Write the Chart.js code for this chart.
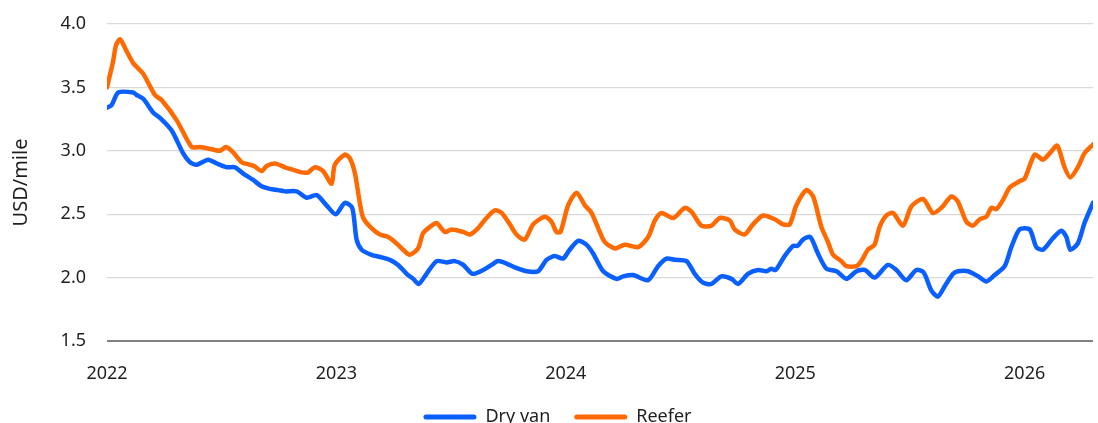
<!DOCTYPE html>
<html>
<head>
<meta charset="utf-8">
<script src="https://cdn.jsdelivr.net/npm/chart.js@4/dist/chart.umd.min.js"></script>
<style>
  html, body { margin: 0; padding: 0; background: #ffffff; }
  #wrap { width: 1098px; height: 423px; overflow: hidden; }
</style>
</head>
<body>
<div id="wrap"><canvas id="rates" width="1098" height="423"></canvas></div>
<script>
// Axis ticks
const yearTicks = [2022, 2023, 2024, 2025, 2026];
const rateTicks = [1.5, 2.0, 2.5, 3.0, 3.5, 4.0];

// Dry van spot rate, USD per mile (time in decimal years)
const dryVanT = [
  2022.000, 2022.020, 2022.049, 2022.115, 2022.129, 2022.158, 2022.202, 2022.231, 2022.282, 2022.332,
  2022.362, 2022.391, 2022.441, 2022.478, 2022.522, 2022.558, 2022.594, 2022.637, 2022.674, 2022.710,
  2022.746, 2022.776, 2022.827, 2022.870, 2022.914, 2022.957, 2022.997, 2023.037, 2023.069, 2023.088,
  2023.110, 2023.153, 2023.197, 2023.233, 2023.269, 2023.306, 2023.335, 2023.359, 2023.393, 2023.437,
  2023.480, 2023.516, 2023.553, 2023.593, 2023.640, 2023.676, 2023.705, 2023.742, 2023.778, 2023.829,
  2023.879, 2023.916, 2023.952, 2023.988, 2024.017, 2024.054, 2024.090, 2024.119, 2024.163, 2024.221,
  2024.250, 2024.293, 2024.359, 2024.402, 2024.439, 2024.475, 2024.526, 2024.562, 2024.598, 2024.635,
  2024.678, 2024.722, 2024.751, 2024.794, 2024.838, 2024.875, 2024.896, 2024.915, 2024.954, 2024.990,
  2025.010, 2025.034, 2025.066, 2025.099, 2025.136, 2025.180, 2025.223, 2025.267, 2025.303, 2025.346,
  2025.404, 2025.441, 2025.484, 2025.528, 2025.560, 2025.593, 2025.622, 2025.651, 2025.688, 2025.709,
  2025.753, 2025.797, 2025.833, 2025.869, 2025.913, 2025.942, 2025.978, 2026.022, 2026.051, 2026.080,
  2026.123, 2026.160, 2026.182, 2026.199, 2026.232, 2026.261, 2026.298
];
const dryVanRate = [
  3.34, 3.36, 3.46, 3.46, 3.44, 3.41, 3.30, 3.26, 3.16, 2.98,
  2.91, 2.89, 2.93, 2.90, 2.87, 2.87, 2.82, 2.77, 2.72, 2.70,
  2.69, 2.68, 2.68, 2.63, 2.65, 2.57, 2.50, 2.59, 2.55, 2.30,
  2.22, 2.18, 2.16, 2.14, 2.10, 2.03, 1.99, 1.95, 2.03, 2.13,
  2.12, 2.13, 2.10, 2.03, 2.06, 2.10, 2.13, 2.11, 2.08, 2.05,
  2.05, 2.14, 2.17, 2.15, 2.22, 2.29, 2.26, 2.19, 2.05, 1.99,
  2.01, 2.02, 1.98, 2.09, 2.15, 2.14, 2.13, 2.03, 1.96, 1.95,
  2.01, 1.99, 1.95, 2.03, 2.06, 2.05, 2.07, 2.06, 2.17, 2.25,
  2.25, 2.30, 2.32, 2.19, 2.07, 2.05, 1.99, 2.05, 2.06, 2.00,
  2.10, 2.06, 1.98, 2.06, 2.04, 1.90, 1.85, 1.93, 2.03, 2.05,
  2.05, 2.01, 1.97, 2.02, 2.09, 2.24, 2.38, 2.38, 2.24, 2.22,
  2.31, 2.37, 2.32, 2.22, 2.27, 2.43, 2.59
];

// Reefer spot rate, USD per mile (time in decimal years)
const reeferT = [
  2022.000, 2022.026, 2022.039, 2022.057, 2022.087, 2022.115, 2022.157, 2022.209, 2022.238, 2022.304,
  2022.369, 2022.405, 2022.462, 2022.492, 2022.519, 2022.549, 2022.587, 2022.623, 2022.641, 2022.674,
  2022.696, 2022.732, 2022.776, 2022.812, 2022.848, 2022.877, 2022.906, 2022.942, 2022.979, 2022.993,
  2023.037, 2023.059, 2023.081, 2023.102, 2023.117, 2023.153, 2023.190, 2023.226, 2023.262, 2023.291,
  2023.320, 2023.356, 2023.378, 2023.415, 2023.437, 2023.473, 2023.502, 2023.553, 2023.582, 2023.618,
  2023.654, 2023.691, 2023.720, 2023.756, 2023.785, 2023.821, 2023.858, 2023.908, 2023.938, 2023.959,
  2023.977, 2024.010, 2024.047, 2024.083, 2024.112, 2024.148, 2024.170, 2024.214, 2024.257, 2024.315,
  2024.359, 2024.388, 2024.417, 2024.468, 2024.519, 2024.548, 2024.591, 2024.635, 2024.671, 2024.715,
  2024.736, 2024.780, 2024.816, 2024.860, 2024.911, 2024.947, 2024.976, 2025.005, 2025.049, 2025.078,
  2025.114, 2025.143, 2025.165, 2025.201, 2025.223, 2025.267, 2025.288, 2025.317, 2025.346, 2025.368,
  2025.397, 2025.426, 2025.470, 2025.506, 2025.557, 2025.600, 2025.637, 2025.681, 2025.709, 2025.746,
  2025.775, 2025.804, 2025.833, 2025.855, 2025.877, 2025.905, 2025.935, 2025.978, 2026.000, 2026.044,
  2026.080, 2026.109, 2026.142, 2026.174, 2026.199, 2026.232, 2026.261, 2026.298
];
const reeferRate = [
  3.50, 3.70, 3.83, 3.88, 3.78, 3.69, 3.61, 3.44, 3.40, 3.24,
  3.03, 3.03, 3.01, 3.00, 3.03, 2.99, 2.91, 2.89, 2.88, 2.84,
  2.88, 2.90, 2.87, 2.85, 2.83, 2.83, 2.87, 2.84, 2.74, 2.89,
  2.97, 2.94, 2.82, 2.59, 2.47, 2.39, 2.34, 2.32, 2.27, 2.22,
  2.18, 2.23, 2.35, 2.41, 2.43, 2.36, 2.38, 2.36, 2.34, 2.39,
  2.47, 2.53, 2.51, 2.42, 2.34, 2.30, 2.42, 2.48, 2.44, 2.36,
  2.36, 2.57, 2.67, 2.57, 2.51, 2.36, 2.28, 2.23, 2.26, 2.24,
  2.32, 2.45, 2.51, 2.47, 2.55, 2.52, 2.41, 2.41, 2.47, 2.45,
  2.38, 2.34, 2.42, 2.49, 2.46, 2.42, 2.42, 2.57, 2.69, 2.64,
  2.40, 2.28, 2.18, 2.13, 2.09, 2.09, 2.13, 2.22, 2.26, 2.40,
  2.49, 2.51, 2.41, 2.56, 2.62, 2.51, 2.55, 2.64, 2.60, 2.44,
  2.41, 2.46, 2.48, 2.55, 2.54, 2.61, 2.71, 2.76, 2.78, 2.97,
  2.93, 2.98, 3.04, 2.87, 2.79, 2.87, 2.98, 3.05
];

const toPoints = (t, v) => t.map((x, i) => ({ x, y: v[i] }));

const FONT = "'Noto Sans', 'Open Sans', sans-serif";
const TEXT = '#1f1f1f';

new Chart(document.getElementById('rates'), {
  type: 'line',
  data: {
    datasets: [
      {
        label: 'Dry van',
        data: toPoints(dryVanT, dryVanRate),
        borderColor: '#0A5FFF',
        backgroundColor: '#0A5FFF',
        borderWidth: 4.5,
        pointRadius: 0,
        tension: 0.25,
        borderJoinStyle: 'round',
        borderCapStyle: 'round'
      },
      {
        label: 'Reefer',
        data: toPoints(reeferT, reeferRate),
        borderColor: '#FF6A00',
        backgroundColor: '#FF6A00',
        borderWidth: 4.5,
        pointRadius: 0,
        tension: 0.25,
        borderJoinStyle: 'round',
        borderCapStyle: 'round'
      }
    ]
  },
  options: {
    responsive: false,
    animation: false,
    devicePixelRatio: 1,
    layout: { padding: { left: 22, right: 5, top: 24, bottom: -13 } },
    plugins: {
      tooltip: { enabled: false },
      legend: {
        position: 'bottom',
        labels: {
          boxWidth: 53,
          boxHeight: 5,
          padding: 24,
          color: TEXT,
          font: { family: FONT, size: 18 },
          generateLabels(chart) {
            return chart.data.datasets.map((ds, i) => ({
              text: ds.label,
              fillStyle: ds.borderColor,
              strokeStyle: ds.borderColor,
              lineWidth: 0,
              borderRadius: 2.5,
              fontColor: TEXT,
              datasetIndex: i,
              hidden: false
            }));
          }
        }
      }
    },
    scales: {
      x: {
        type: 'linear',
        min: yearTicks[0],
        max: dryVanT[dryVanT.length - 1],
        afterBuildTicks(scale) { scale.ticks = yearTicks.map(v => ({ value: v })); },
        afterFit(scale) { scale.height = 43; },
        grid: { display: false, drawTicks: false },
        border: { display: false },
        ticks: {
          padding: 22,
          maxRotation: 0,
          color: TEXT,
          font: { family: FONT, size: 18 },
          callback: v => String(v)
        }
      },
      y: {
        min: rateTicks[0],
        max: rateTicks[rateTicks.length - 1],
        afterBuildTicks(scale) { scale.ticks = rateTicks.map(v => ({ value: v })); },
        afterFit(scale) { scale.width = 85; },
        border: { display: false },
        grid: {
          drawTicks: true,
          tickLength: 21,
          tickColor: 'rgba(0,0,0,0)',
          color: ctx => (ctx.tick && ctx.tick.value === rateTicks[0]) ? '#808080' : '#d9d9d9',
          lineWidth: ctx => (ctx.tick && ctx.tick.value === rateTicks[0]) ? 2 : 1.2
        },
        ticks: {
          padding: 0,
          color: TEXT,
          font: { family: FONT, size: 18 },
          callback: v => Number(v).toFixed(1)
        },
        title: {
          display: true,
          text: 'USD/mile',
          color: TEXT,
          font: { family: FONT, size: 20 },
          padding: { top: -13, bottom: 0 }
        }
      }
    }
  }
});
</script>
</body>
</html>
